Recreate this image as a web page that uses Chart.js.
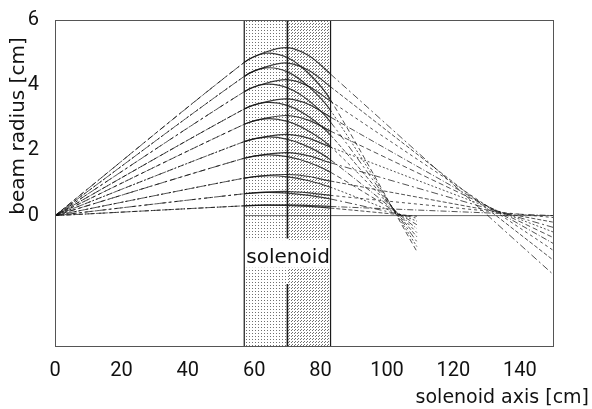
<!DOCTYPE html>
<html>
<head>
<meta charset="utf-8">
<script src="https://cdn.jsdelivr.net/npm/chart.js@4.4.0/dist/chart.umd.min.js"></script>
<style>
  body { margin: 0; background: #fff; }
  canvas { display: block; }
</style>
</head>
<body>
<canvas id="chart" width="592" height="409"></canvas>
<script>
// points along the axis (cm) where the ray heights inside the solenoid were read
const solenoidX = [57, 63.5, 70, 76.5, 83];
const solenoidStart = 57;
const solenoidMid = 70;
const solenoidEnd = 83;

// rays that cross over near 103 cm (heights at solenoidX, then end point)
const strongRays = [
  [4.7, 4.98, 4.85, 4.35, 3.55],
  [4.27, 4.53, 4.41, 3.95, 3.23],
  [3.8, 4.03, 3.92, 3.52, 2.87],
  [3.27, 3.47, 3.38, 3.03, 2.47],
  [2.8, 2.97, 2.89, 2.59, 2.12],
  [2.27, 2.41, 2.34, 2.1, 1.71],
  [1.76, 1.86, 1.81, 1.63, 1.33],
  [1.15, 1.22, 1.19, 1.07, 0.87],
  [0.67, 0.71, 0.69, 0.62, 0.51],
  [0.3, 0.32, 0.31, 0.28, 0.23]
];
const strongEndX = 109;
const strongEndY = [-1.1, -0.95, -0.8, -0.65, -0.52, -0.4, -0.28, -0.17, -0.08, -0.02];

// rays that cross over near 130-145 cm
const weakRays = [
  [4.7, 5.02, 5.15, 4.9, 4.34],
  [4.27, 4.56, 4.68, 4.45, 3.95],
  [3.8, 4.06, 4.17, 3.96, 3.51],
  [3.27, 3.49, 3.58, 3.41, 3.02],
  [2.8, 2.99, 3.07, 2.92, 2.59],
  [2.27, 2.42, 2.49, 2.37, 2.1],
  [1.76, 1.88, 1.93, 1.83, 1.62],
  [1.15, 1.23, 1.26, 1.2, 1.06],
  [0.67, 0.72, 0.74, 0.7, 0.62],
  [0.3, 0.32, 0.33, 0.31, 0.28]
];
const weakEndX = 150;
const weakEndY = [-1.8, -1.36, -1.06, -0.85, -0.67, -0.5, -0.36, -0.2, -0.06, 0.0];

const xTicks = [0, 20, 40, 60, 80, 100, 120, 140];
const yTicks = [0, 2, 4, 6];

const dashes = [[5, 3], [2, 2], [7, 3, 2, 3], [4, 2], [3, 3], [6, 2, 1, 2]];
const tickFont = 'Roboto, "DejaVu Sans", sans-serif';

function makeRay(row, endX, endY, i) {
  const pts = [{ x: 0, y: 0 }];
  solenoidX.forEach((x, j) => pts.push({ x: x, y: row[j] }));
  pts.push({ x: endX, y: endY });
  const dash = dashes[i % dashes.length];
  const inside = c => c.p0.parsed.x >= solenoidStart && c.p1.parsed.x <= solenoidEnd;
  return {
    data: pts,
    borderColor: 'rgba(15,15,15,0.8)',
    borderWidth: 1,
    pointRadius: 0,
    tension: 0.3,
    segment: {
      borderDash: c => inside(c) ? [] : dash,
      borderWidth: c => inside(c) ? 1.2 : 0.9
    }
  };
}

const datasets = [];
strongRays.forEach((r, i) => datasets.push(makeRay(r, strongEndX, strongEndY[i], i)));
weakRays.forEach((r, i) => datasets.push(makeRay(r, weakEndX, weakEndY[i], i + 2)));
datasets.push({
  data: [{ x: solenoidStart, y: 0 }, { x: 150, y: 0 }],
  borderColor: 'rgba(40,40,40,0.7)',
  borderWidth: 1,
  pointRadius: 0
});

function dotTile(n, dots, color) {
  const c = document.createElement('canvas');
  c.width = n; c.height = n;
  const g = c.getContext('2d');
  g.fillStyle = color;
  dots.forEach(d => g.fillRect(d[0], d[1], 1, 1));
  return c;
}

const solenoidPlugin = {
  id: 'solenoid',
  beforeDatasetsDraw(chart) {
    const { ctx, chartArea: a, scales: { x, y } } = chart;
    const x0 = x.getPixelForValue(solenoidStart);
    const xm = x.getPixelForValue(solenoidMid);
    const x1 = x.getPixelForValue(solenoidEnd);
    ctx.save();
    ctx.fillStyle = ctx.createPattern(dotTile(3, [[0, 0]], '#707070'), 'repeat');
    ctx.fillRect(x0, a.top, xm - x0, a.bottom - a.top);
    ctx.fillStyle = ctx.createPattern(dotTile(3, [[0, 0], [1, 2]], '#707070'), 'repeat');
    ctx.fillRect(xm, a.top, x1 - xm, a.bottom - a.top);
    // blank band behind the label
    const bTop = y.getPixelForValue(-0.75), bBot = y.getPixelForValue(-1.6);
    ctx.fillStyle = '#fff';
    ctx.fillRect(x0, bTop, x1 - x0, bBot - bTop);
    ctx.restore();
  },
  afterDatasetsDraw(chart) {
    const { ctx, chartArea: a, scales: { x, y } } = chart;
    const x0 = x.getPixelForValue(solenoidStart);
    const xm = x.getPixelForValue(solenoidMid);
    const x1 = x.getPixelForValue(solenoidEnd);
    ctx.save();
    ctx.strokeStyle = '#1a1a1a';
    ctx.lineWidth = 1.2;
    ctx.beginPath();
    ctx.moveTo(x0, a.top); ctx.lineTo(x0, a.bottom);
    ctx.moveTo(x1, a.top); ctx.lineTo(x1, a.bottom);
    ctx.stroke();
    ctx.lineWidth = 1.6;
    ctx.beginPath();
    ctx.moveTo(xm, a.top); ctx.lineTo(xm, y.getPixelForValue(-0.7));
    ctx.moveTo(xm, y.getPixelForValue(-2.1)); ctx.lineTo(xm, a.bottom);
    ctx.stroke();

    // frame
    ctx.strokeStyle = '#555';
    ctx.lineWidth = 1;
    ctx.strokeRect(a.left + 0.5, a.top + 0.5, a.right - a.left, a.bottom - a.top);

    ctx.fillStyle = '#111';
    ctx.font = '20px "DejaVu Sans", sans-serif';
    ctx.textBaseline = 'middle';
    ctx.textAlign = 'left';
    ctx.fillText('solenoid', x0 + 2, y.getPixelForValue(-1.3));

    // axis titles
    ctx.textBaseline = 'alphabetic';
    ctx.textAlign = 'right';
    ctx.font = '19px "DejaVu Sans", sans-serif';
    ctx.fillText('solenoid axis [cm]', 589, 403);
    ctx.translate(24, 126);
    ctx.rotate(-Math.PI / 2);
    ctx.textAlign = 'center';
    ctx.font = '20px "DejaVu Sans", sans-serif';
    ctx.fillText('beam radius [cm]', 0, 0);
    ctx.restore();
  }
};

new Chart(document.getElementById('chart'), {
  type: 'line',
  data: { datasets: datasets },
  plugins: [solenoidPlugin],
  options: {
    responsive: false,
    animation: false,
    layout: { padding: { top: 17, right: 39, left: 0, bottom: 0 } },
    plugins: { legend: { display: false }, tooltip: { enabled: false } },
    scales: {
      x: {
        type: 'linear',
        min: 0,
        max: 150,
        grid: { display: false },
        border: { display: false },
        afterBuildTicks: s => { s.ticks = xTicks.map(v => ({ value: v })); },
        afterFit: s => { s.height = 63; },
        ticks: { padding: 5, color: '#111', font: { family: tickFont, size: 20 } }
      },
      y: {
        min: -4,
        max: 6,
        grid: { display: false },
        border: { display: false },
        afterBuildTicks: s => { s.ticks = yTicks.map(v => ({ value: v })); },
        afterFit: s => { s.width = 55; },
        ticks: { padding: 8, color: '#111', font: { family: tickFont, size: 20 } }
      }
    }
  }
});
</script>
</body>
</html>
